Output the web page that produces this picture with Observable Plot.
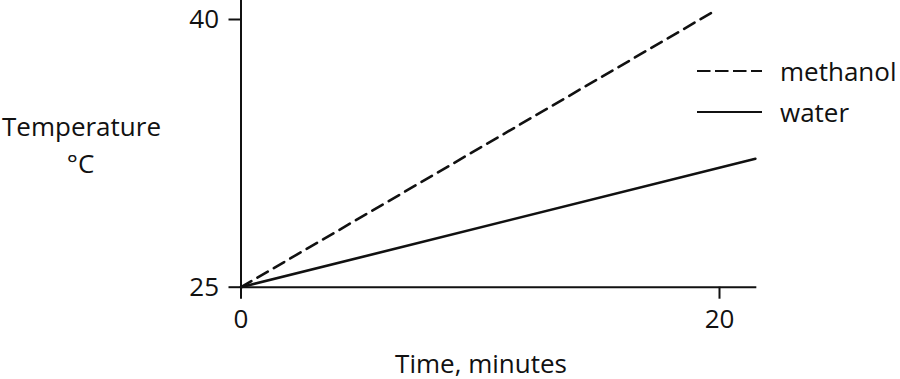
<!DOCTYPE html>
<html>
<head>
<meta charset="utf-8">
<script src="https://cdn.jsdelivr.net/npm/d3@7"></script>
<script src="https://cdn.jsdelivr.net/npm/@observablehq/plot@0.6"></script>
<style>
  html, body { margin: 0; padding: 0; background: #fff; }
  #wrap { position: relative; width: 900px; height: 379px; font-family: "Open Sans", sans-serif; }
  #legend { position: absolute; left: 697px; top: 50px; font-size: 26px; color: #111; }
  #legend .row { display: flex; align-items: center; height: 41px; }
  #legend svg { margin-right: 18px; }
</style>
</head>
<body>
<div id="wrap"></div>
<script>
// ---- data ----
const seriesNames = ["methanol", "water"];
const methanolTime = [0, 19.7];      // minutes
const methanolTemp = [25, 40.4];     // °C
const waterTime = [0, 21.5];         // minutes
const waterTemp = [25, 32.2];        // °C
const xTicks = [0, 20];
const yTicks = [25, 40];
const xLabel = "Time, minutes";
const yLabelLines = ["Temperature", "°C"];

const rows = [
  ...methanolTime.map((t, i) => ({series: seriesNames[0], time: t, temp: methanolTemp[i]})),
  ...waterTime.map((t, i) => ({series: seriesNames[1], time: t, temp: waterTemp[i]}))
];

const ink = "#111";
const plot = Plot.plot({
  width: 900,
  height: 379,
  marginLeft: 240.5,
  marginRight: 144,
  marginTop: 0,
  marginBottom: 92.3,
  style: {fontFamily: "Open Sans, sans-serif", fontSize: "26px", color: ink, background: "#fff"},
  x: {domain: [0, 20], range: [240.5, 719]},
  y: {domain: [25, 40], range: [286.7, 19]},
  marks: [
    // axis lines
    Plot.ruleX([xTicks[0]], {y1: yTicks[0], y2: 41.06, stroke: ink, strokeWidth: 2}),
    Plot.ruleY([yTicks[0]], {x1: xTicks[0], x2: 21.56, stroke: ink, strokeWidth: 2}),
    Plot.axisX({ticks: xTicks, tickSize: 12, tickPadding: 10, stroke: ink, strokeWidth: 2, fill: ink, label: null, fontSize: 26}),
    Plot.axisY({ticks: yTicks, tickSize: 12, tickPadding: 10, stroke: ink, strokeWidth: 2, fill: ink, label: null, fontSize: 26}),
    // data lines
    Plot.line(rows.filter(d => d.series === "methanol"), {x: "time", y: "temp", stroke: ink, strokeWidth: 2.6, strokeDasharray: "12,7"}),
    Plot.line(rows.filter(d => d.series === "water"), {x: "time", y: "temp", stroke: ink, strokeWidth: 2.6}),
    // axis titles (offsets from the frame's top-left corner)
    Plot.text([xLabel], {frameAnchor: "top-left", dx: 240, dy: 372, lineAnchor: "bottom", textAnchor: "middle", fill: ink, fontSize: 26}),
    Plot.text([yLabelLines[0]], {frameAnchor: "top-left", dx: -159.5, dy: 135, lineAnchor: "bottom", textAnchor: "middle", fill: ink, fontSize: 26}),
    Plot.text([yLabelLines[1]], {frameAnchor: "top-left", dx: -160.5, dy: 172, lineAnchor: "bottom", textAnchor: "middle", fill: ink, fontSize: 26})
  ]
});
const wrap = document.getElementById("wrap");
wrap.appendChild(plot);

// legend
const legend = document.createElement("div");
legend.id = "legend";
legend.innerHTML = seriesNames.map((name, i) => `
  <div class="row">
    <svg width="65" height="10"><line x1="0" y1="5" x2="65" y2="5" stroke="${ink}" stroke-width="2" ${i === 0 ? 'stroke-dasharray="13.5,4.5"' : ''}/></svg>
    <span>${name}</span>
  </div>`).join("");
wrap.appendChild(legend);
</script>
</body>
</html>
